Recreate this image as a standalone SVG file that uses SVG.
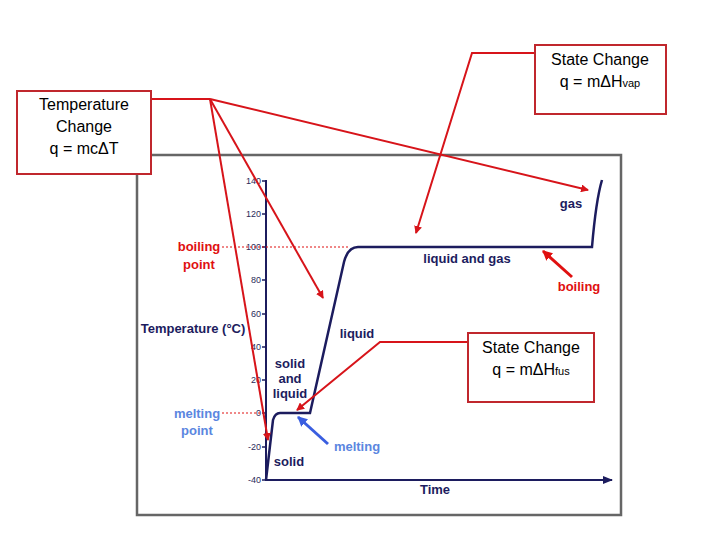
<svg xmlns="http://www.w3.org/2000/svg" width="720" height="540" viewBox="0 0 720 540">
<style>
.box{fill:#fff;stroke:#c0272d;stroke-width:2}
.bt{font-family:"Liberation Sans",Arial,sans-serif;font-size:16px;fill:#000;text-anchor:middle}
.lab{font-family:"Liberation Sans",Arial,sans-serif;font-size:13px;font-weight:bold;text-anchor:middle}
.tk{font-family:"Liberation Sans",Arial,sans-serif;font-size:9px;fill:#2a2a5a;text-anchor:end}
.call{fill:none;stroke:#d7141a;stroke-width:2}
</style>
<defs>
<marker id="ra" markerWidth="8" markerHeight="8" refX="7" refY="4" orient="auto" markerUnits="userSpaceOnUse"><path d="M0,0L8,4L0,8z" fill="#d7141a"/></marker>
<marker id="na" markerWidth="10" markerHeight="8" refX="9" refY="4" orient="auto" markerUnits="userSpaceOnUse"><path d="M0,0L10,4L0,8z" fill="#1c1c5e"/></marker>
<marker id="ba" markerWidth="10" markerHeight="10" refX="9" refY="5" orient="auto" markerUnits="userSpaceOnUse"><path d="M0,0L10,5L0,10z" fill="#3a5ee0"/></marker>
<marker id="bo" markerWidth="10" markerHeight="10" refX="9" refY="5" orient="auto" markerUnits="userSpaceOnUse"><path d="M0,0L10,5L0,10z" fill="#e01010"/></marker>
</defs>
<rect width="720" height="540" fill="#fff"/>
<g id="chart">
<rect x="137" y="155" width="484" height="360" fill="#fff" stroke="#666" stroke-width="2.5"/>
<line x1="266" y1="180" x2="266" y2="481" stroke="#1c1c5e" stroke-width="2"/>
<line x1="266" y1="480" x2="612" y2="480" stroke="#1c1c5e" stroke-width="2" marker-end="url(#na)"/>
<g stroke="#1c1c5e" stroke-width="1.5">
<line x1="262" y1="181" x2="266" y2="181"/><line x1="262" y1="214" x2="266" y2="214"/><line x1="262" y1="247" x2="266" y2="247"/><line x1="262" y1="280" x2="266" y2="280"/><line x1="262" y1="314" x2="266" y2="314"/><line x1="262" y1="347" x2="266" y2="347"/><line x1="262" y1="380" x2="266" y2="380"/><line x1="262" y1="413" x2="266" y2="413"/><line x1="262" y1="447" x2="266" y2="447"/><line x1="262" y1="480" x2="266" y2="480"/>
</g>
<g class="tk">
<text x="261" y="184">140</text><text x="261" y="217">120</text><text x="261" y="250">100</text><text x="261" y="283">80</text><text x="261" y="317">60</text><text x="261" y="350">40</text><text x="261" y="383">20</text><text x="261" y="416">0</text><text x="261" y="450">-20</text><text x="261" y="483">-40</text>
</g>
<line x1="222" y1="247" x2="350" y2="247" stroke="#e01010" stroke-width="1.2" stroke-dasharray="2,2"/>
<line x1="222" y1="413" x2="262" y2="413" stroke="#e01010" stroke-width="1" stroke-dasharray="2,2"/>
<path d="M266,480 L273,420 Q275,413 280,413 L310,413 L344,262 Q348,247 358,247 L592,247 Q596,200 602,180" fill="none" stroke="#1c1c5e" stroke-width="2.5"/>
<text class="lab" x="199" y="251" fill="#e01010">boiling</text>
<text class="lab" x="199" y="269" fill="#e01010">point</text>
<text class="lab" x="197" y="418" fill="#5b86e0">melting</text>
<text class="lab" x="197" y="435" fill="#5b86e0">point</text>
<text class="lab" x="193" y="333" fill="#1c1c5e">Temperature (°C)</text>
<text class="lab" x="289" y="466" fill="#1c1c5e">solid</text>
<text class="lab" x="290" y="368" fill="#1c1c5e">solid</text>
<text class="lab" x="290" y="383" fill="#1c1c5e">and</text>
<text class="lab" x="290" y="398" fill="#1c1c5e">liquid</text>
<text class="lab" x="357" y="338" fill="#1c1c5e">liquid</text>
<text class="lab" x="467" y="263" fill="#1c1c5e">liquid and gas</text>
<text class="lab" x="571" y="208" fill="#1c1c5e">gas</text>
<text class="lab" x="579" y="291" fill="#e01010">boiling</text>
<text class="lab" x="357" y="451" fill="#5b86e0">melting</text>
<text class="lab" x="435" y="494" fill="#1c1c5e">Time</text>
<line x1="328" y1="444" x2="298" y2="417" stroke="#3a5ee0" stroke-width="3" marker-end="url(#ba)"/>
<line x1="572" y1="277" x2="543" y2="251" stroke="#e01010" stroke-width="3" marker-end="url(#bo)"/>
</g>
<g id="connectors">
<polyline class="call" points="151,99 210,99"/>
<line class="call" x1="210" y1="99" x2="588" y2="190" marker-end="url(#ra)"/>
<line class="call" x1="210" y1="99" x2="323" y2="298" marker-end="url(#ra)"/>
<line class="call" x1="210" y1="99" x2="268" y2="440" marker-end="url(#ra)"/>
<polyline class="call" points="535,53 472,53 416,233" marker-end="url(#ra)"/>
<polyline class="call" points="468,342 380,342 297,410" marker-end="url(#ra)"/>
</g>
<g id="tempChange">
<rect class="box" x="17" y="91" width="134" height="83"/>
<text class="bt" x="84" y="110">Temperature</text>
<text class="bt" x="84" y="132">Change</text>
<text class="bt" x="84" y="154">q = mcΔT</text>
</g>
<g id="vap">
<rect class="box" x="535" y="45" width="131" height="69"/>
<text class="bt" x="600" y="65">State Change</text>
<text class="bt" x="600" y="87">q = mΔH<tspan font-size="11">vap</tspan></text>
</g>
<g id="fus">
<rect class="box" x="468" y="333" width="126" height="69"/>
<text class="bt" x="531" y="353">State Change</text>
<text class="bt" x="531" y="375">q = mΔH<tspan font-size="11">fus</tspan></text>
</g>
</svg>
